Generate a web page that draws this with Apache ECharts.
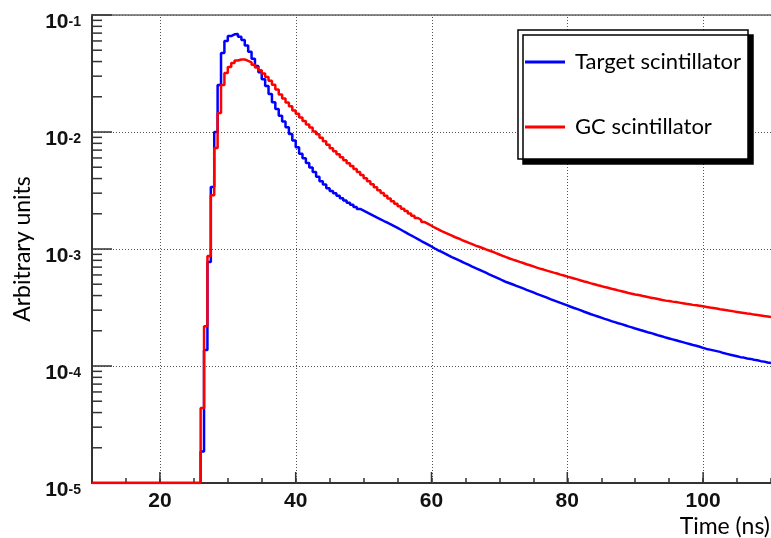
<!DOCTYPE html>
<html><head><meta charset="utf-8">
<script src="https://cdn.jsdelivr.net/npm/echarts@6/dist/echarts.min.js"></script>
<style>html,body{margin:0;padding:0;background:#fff}#c{width:771px;height:538px}</style>
</head><body><div id="c"></div>
<script>
// Histogram binning (ns)
const binLowEdge = 10;
const binWidth = 0.5;

const seriesNames = ['Target scintillator', 'GC scintillator'];

// Bin contents, bins from 10.0 ns to 110.0 ns in 0.5 ns steps
const targetScintillator = [
  1e-5,1e-5,1e-5,1e-5,1e-5,1e-5,1e-5,1e-5, 1e-5,1e-5,1e-5,1e-5,1e-5,1e-5,1e-5,1e-5,
  1e-5,1e-5,1e-5,1e-5,1e-5,1e-5,1e-5,1e-5, 1e-5,1e-5,1e-5,1e-5,1e-5,1e-5,1e-5,1e-5,
  1.86e-5, 1.37e-4, 7.76e-4, 3.39e-3, 1.00e-2, 2.52e-2, 4.73e-2, 6.00e-2,
  6.61e-2, 6.84e-2, 6.89e-2, 6.53e-2, 6.10e-2, 5.50e-2, 4.84e-2, 4.22e-2,
  3.67e-2, 3.24e-2, 2.82e-2, 2.47e-2, 2.11e-2, 1.80e-2, 1.57e-2, 1.38e-2,
  1.23e-2, 1.10e-2, 9.62e-3, 8.45e-3, 7.41e-3, 6.53e-3, 5.96e-3, 5.43e-3,
  4.97e-3, 4.54e-3, 4.15e-3, 3.80e-3, 3.55e-3, 3.31e-3, 3.13e-3, 2.99e-3,
  2.85e-3, 2.72e-3, 2.60e-3, 2.49e-3, 2.39e-3, 2.29e-3, 2.20e-3, 2.13e-3,
  2.06e-3, 1.99e-3, 1.92e-3, 1.855e-3, 1.795e-3, 1.735e-3, 1.68e-3, 1.625e-3,
  1.57e-3, 1.515e-3, 1.46e-3, 1.405e-3, 1.355e-3, 1.305e-3, 1.26e-3, 1.215e-3,
  1.17e-3, 1.13e-3, 1.09e-3, 1.05e-3, 1.01e-3, 9.75e-4, 9.43e-4, 9.12e-4,
  8.81e-4, 8.53e-4, 8.28e-4, 8.02e-4, 7.78e-4, 7.53e-4, 7.31e-4, 7.08e-4,
  6.87e-4, 6.67e-4, 6.46e-4, 6.27e-4, 6.08e-4, 5.90e-4, 5.73e-4, 5.56e-4,
  5.38e-4, 5.22e-4, 5.10e-4, 4.97e-4, 4.84e-4, 4.72e-4, 4.60e-4, 4.48e-4,
  4.37e-4, 4.26e-4, 4.14e-4, 4.04e-4, 3.94e-4, 3.84e-4, 3.73e-4, 3.64e-4,
  3.55e-4, 3.46e-4, 3.38e-4, 3.30e-4, 3.21e-4, 3.13e-4, 3.06e-4, 2.99e-4,
  2.91e-4, 2.84e-4, 2.77e-4, 2.71e-4, 2.65e-4, 2.59e-4, 2.53e-4, 2.48e-4,
  2.42e-4, 2.37e-4, 2.32e-4, 2.28e-4, 2.23e-4, 2.18e-4, 2.14e-4, 2.09e-4,
  2.05e-4, 2.01e-4, 1.97e-4, 1.93e-4, 1.90e-4, 1.86e-4, 1.82e-4, 1.79e-4,
  1.75e-4, 1.72e-4, 1.69e-4, 1.66e-4, 1.63e-4, 1.60e-4, 1.57e-4, 1.54e-4,
  1.51e-4, 1.49e-4, 1.46e-4, 1.43e-4, 1.40e-4, 1.38e-4, 1.36e-4, 1.34e-4,
  1.32e-4, 1.29e-4, 1.27e-4, 1.25e-4, 1.23e-4, 1.21e-4, 1.19e-4, 1.18e-4,
  1.16e-4, 1.15e-4, 1.13e-4, 1.12e-4, 1.10e-4, 1.09e-4, 1.07e-4, 1.06e-4
];

const gcScintillator = [
  1e-5,1e-5,1e-5,1e-5,1e-5,1e-5,1e-5,1e-5, 1e-5,1e-5,1e-5,1e-5,1e-5,1e-5,1e-5,1e-5,
  1e-5,1e-5,1e-5,1e-5,1e-5,1e-5,1e-5,1e-5, 1e-5,1e-5,1e-5,1e-5,1e-5,1e-5,1e-5,1e-5,
  4.37e-5, 2.19e-4, 8.71e-4, 2.88e-3, 7.30e-3, 1.45e-2, 2.52e-2, 3.19e-2,
  3.60e-2, 3.89e-2, 4.08e-2, 4.17e-2, 4.17e-2, 4.05e-2, 3.94e-2, 3.76e-2,
  3.56e-2, 3.37e-2, 3.16e-2, 2.95e-2, 2.74e-2, 2.54e-2, 2.31e-2, 2.09e-2,
  1.93e-2, 1.79e-2, 1.66e-2, 1.53e-2, 1.43e-2, 1.33e-2, 1.24e-2, 1.16e-2,
  1.09e-2, 1.01e-2, 9.55e-3, 8.91e-3, 8.32e-3, 7.78e-3, 7.28e-3, 6.85e-3,
  6.46e-3, 6.08e-3, 5.73e-3, 5.41e-3, 5.11e-3, 4.82e-3, 4.54e-3, 4.28e-3,
  4.03e-3, 3.79e-3, 3.57e-3, 3.37e-3, 3.18e-3, 3.01e-3, 2.85e-3, 2.70e-3,
  2.56e-3, 2.44e-3, 2.32e-3, 2.21e-3, 2.11e-3, 2.01e-3, 1.92e-3, 1.84e-3,
  1.77e-3, 1.70e-3, 1.64e-3, 1.58e-3, 1.52e-3, 1.47e-3, 1.42e-3, 1.38e-3,
  1.34e-3, 1.30e-3, 1.26e-3, 1.23e-3, 1.19e-3, 1.16e-3, 1.13e-3, 1.10e-3,
  1.07e-3, 1.045e-3, 1.02e-3, 9.94e-4, 9.70e-4, 9.48e-4, 9.22e-4, 8.97e-4,
  8.73e-4, 8.51e-4, 8.30e-4, 8.11e-4, 7.94e-4, 7.76e-4, 7.59e-4, 7.41e-4,
  7.26e-4, 7.10e-4, 6.93e-4, 6.79e-4, 6.67e-4, 6.53e-4, 6.41e-4, 6.28e-4,
  6.17e-4, 6.04e-4, 5.93e-4, 5.81e-4, 5.70e-4, 5.60e-4, 5.50e-4, 5.38e-4,
  5.28e-4, 5.19e-4, 5.08e-4, 4.99e-4, 4.90e-4, 4.82e-4, 4.73e-4, 4.66e-4,
  4.58e-4, 4.51e-4, 4.43e-4, 4.36e-4, 4.29e-4, 4.21e-4, 4.15e-4, 4.09e-4,
  4.04e-4, 3.98e-4, 3.93e-4, 3.87e-4, 3.82e-4, 3.77e-4, 3.72e-4, 3.66e-4,
  3.62e-4, 3.59e-4, 3.55e-4, 3.52e-4, 3.48e-4, 3.44e-4, 3.40e-4, 3.37e-4,
  3.33e-4, 3.30e-4, 3.27e-4, 3.24e-4, 3.20e-4, 3.16e-4, 3.13e-4, 3.10e-4,
  3.06e-4, 3.03e-4, 3.00e-4, 2.96e-4, 2.93e-4, 2.90e-4, 2.87e-4, 2.84e-4,
  2.81e-4, 2.79e-4, 2.75e-4, 2.73e-4, 2.70e-4, 2.67e-4, 2.65e-4, 2.62e-4
];

// Axis ticks
const xMajorTicks = [20, 40, 60, 80, 100];
const xLabelStep = 20;
const xLabelInterval = 10;   // min (10) is a multiple of it
const xMinorInterval = 5;    // min (10) is a multiple of it
const yMinorTicks = [];
for (let e = -5; e <= -2; e++) for (let k = 2; k <= 9; k++) yMinorTicks.push(+(k * Math.pow(10, e)).toPrecision(3));

const xTitle = 'Time (ns)';
const yTitle = 'Arbitrary units';

function histSteps(vals) {
  const d = vals.map((v, i) => [binLowEdge + i * binWidth, v]);
  d.push([binLowEdge + vals.length * binWidth, vals[vals.length - 1]]);
  return d;
}

const axisColor = '#333';
const gridColor = '#555';
const gridDash = [1, 2];
const X_MIN = 10, X_MAX = 110, Y_MIN = 1e-5, Y_MAX = 1e-1;
const crisp = v => Math.round(v) + 0.5;

const chart = echarts.init(document.getElementById('c'), null, { renderer: 'canvas' });
chart.setOption({
  animation: false,
  backgroundColor: '#fff',
  grid: { left: 92, right: -1, top: 15, bottom: 55, containLabel: false },
  xAxis: [
    {
      type: 'value', min: X_MIN, max: X_MAX, interval: xLabelInterval, position: 'bottom',
      axisLine: { show: true, onZero: false, lineStyle: { color: axisColor, width: 2 } },
      axisTick: { show: false },
      axisLabel: {
        show: true, margin: 8, fontFamily: 'Liberation Sans', fontWeight: 'bold', fontSize: 21, color: '#111',
        showMinLabel: false, showMaxLabel: false,
        formatter: v => (Math.abs(v % xLabelStep) < 1e-9 ? String(v) : '')
      },
      splitLine: { show: false }
    },
    {
      type: 'value', min: X_MIN, max: X_MAX, interval: xMinorInterval, position: 'bottom',
      axisLine: { show: false, onZero: false },
      axisTick: { show: true, inside: true, length: 5, lineStyle: { color: axisColor, width: 1.5 } },
      axisLabel: { show: false }, splitLine: { show: false }
    },
    {
      type: 'value', min: X_MIN, max: X_MAX, position: 'top',
      axisLine: { show: true, onZero: false, lineStyle: { color: '#666', width: 1.5 } },
      axisTick: { show: false }, axisLabel: { show: false }, splitLine: { show: false }
    }
  ],
  yAxis: [
    {
      type: 'log', logBase: 10, min: Y_MIN, max: Y_MAX, position: 'left',
      axisLine: { show: true, onZero: false, lineStyle: { color: axisColor, width: 2 } },
      axisTick: { show: true, inside: true, length: 20, lineStyle: { color: axisColor, width: 1.5 } },
      axisLabel: {
        show: true, margin: 11, padding: [15, 0, 0, 0],
        formatter: v => '{a|10}{b|' + Math.round(Math.log10(v)) + '}',
        rich: {
          a: { fontFamily: 'Liberation Sans', fontWeight: 'bold', fontSize: 21, lineHeight: 21, color: '#111', verticalAlign: 'bottom' },
          b: { fontFamily: 'Liberation Sans', fontWeight: 'bold', fontSize: 14, lineHeight: 14, color: '#111', verticalAlign: 'top', padding: [3, 0, 0, 0] }
        }
      },
      splitLine: { show: true, lineStyle: { color: gridColor, width: 1, type: gridDash } }
    }
  ],
  legend: {
    data: seriesNames, orient: 'vertical', left: 525, top: 50, padding: 0,
    itemWidth: 40, itemHeight: 3, icon: 'rect', itemGap: 41, selectedMode: false, z: 10,
    textStyle: { fontFamily: 'Lato', fontSize: 22, lineHeight: 24, color: '#000', padding: [0, 0, 0, 5] }
  },
  graphic: [
    {
      type: 'rect', z: 5,
      shape: { x: 518, y: 30, width: 230, height: 129 },
      style: { fill: '#fff', stroke: '#000', lineWidth: 1.5, shadowColor: '#000', shadowOffsetX: 5, shadowOffsetY: 5, shadowBlur: 0 }
    },
    {
      type: 'text', z: 5, x: 770, y: 538,
      style: { text: xTitle, fontFamily: 'Lato', fontSize: 23, fill: '#000', align: 'right', verticalAlign: 'bottom' }
    },
    {
      type: 'text', z: 5, x: 23, y: 249, rotation: Math.PI / 2,
      style: { text: yTitle, fontFamily: 'Lato', fontSize: 23, fill: '#000', align: 'center', verticalAlign: 'middle' }
    }
  ],
  series: [
    {
      // vertical dotted grid lines at the labelled times
      name: 'xGrid', type: 'custom', silent: true, z: 1, clip: false,
      xAxisIndex: 0, yAxisIndex: 0,
      encode: { x: 0, y: 1 },
      data: xMajorTicks.map(v => [v, Y_MIN]),
      renderItem: (params, api) => {
        const b = api.coord([api.value(0), Y_MIN]);
        const t = api.coord([api.value(0), Y_MAX]);
        return { type: 'line', shape: { x1: crisp(b[0]), y1: b[1], x2: crisp(t[0]), y2: t[1] },
                 style: { stroke: gridColor, lineWidth: 1, lineDash: gridDash } };
      }
    },
    {
      // major ticks of the time axis
      name: 'xMajorTicks', type: 'custom', silent: true, z: 3, clip: false,
      xAxisIndex: 0, yAxisIndex: 0,
      encode: { x: 0, y: 1 },
      data: xMajorTicks.map(v => [v, Y_MIN]),
      renderItem: (params, api) => {
        const b = api.coord([api.value(0), api.value(1)]);
        return { type: 'line', shape: { x1: b[0], y1: b[1], x2: b[0], y2: b[1] - 11 },
                 style: { stroke: axisColor, lineWidth: 1.5 } };
      }
    },
    {
      name: 'yMinorTicks', type: 'custom', silent: true, z: 3, clip: false,
      xAxisIndex: 0, yAxisIndex: 0,
      encode: { x: 0, y: 1 },
      data: yMinorTicks.map(v => [X_MIN, v]),
      renderItem: (params, api) => {
        const p = api.coord([api.value(0), api.value(1)]);
        return { type: 'line', shape: { x1: p[0], y1: p[1], x2: p[0] + 10, y2: p[1] },
                 style: { stroke: axisColor, lineWidth: 1.5 } };
      }
    },
    {
      name: seriesNames[0], type: 'line', step: 'end', symbol: 'none', clip: true,
      xAxisIndex: 0, yAxisIndex: 0, color: '#0000ff',
      lineStyle: { color: '#0000ff', width: 2.5 },
      data: histSteps(targetScintillator)
    },
    {
      name: seriesNames[1], type: 'line', step: 'end', symbol: 'none', clip: true,
      xAxisIndex: 0, yAxisIndex: 0, color: '#ff0000',
      lineStyle: { color: '#ff0000', width: 2.5 },
      data: histSteps(gcScintillator)
    }
  ]
});
</script>
</body></html>
